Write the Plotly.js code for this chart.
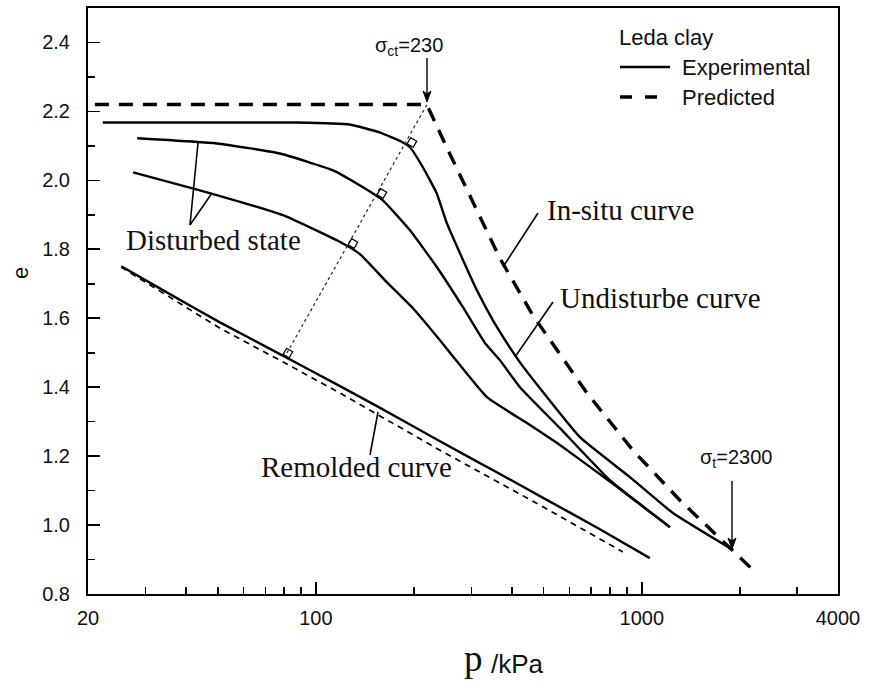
<!DOCTYPE html>
<html><head><meta charset="utf-8">
<script src="https://cdn.plot.ly/plotly-3.0.1.min.js"></script>
<style>html,body{margin:0;padding:0;background:#fff}</style>
</head><body><div id="chart" style="width:874px;height:682px"></div>
<script>
// ---- data ----
const insituPredP = [21, 219, 252, 312, 367, 463, 679, 939, 1309, 2193];
const insituPredE = [2.22, 2.22, 2.096, 1.916, 1.774, 1.609, 1.383, 1.217, 1.072, 0.870];

const undisturbedP = [22.2, 87.5, 127, 157, 185, 194.5, 213, 235, 252.5, 277, 312, 349.5, 386, 423, 487, 646, 920, 1246, 1904];
const undisturbedE = [2.168, 2.168, 2.162, 2.139, 2.110, 2.096, 2.038, 1.962, 1.875, 1.788, 1.681, 1.594, 1.528, 1.472, 1.397, 1.255, 1.139, 1.035, 0.928];

const disturbed1P = [28.3, 49.7, 77.6, 112.9, 139.5, 160.6, 194.5, 235.3, 282.7, 330.3, 367.2, 422.9, 561, 798.4, 1220];
const disturbed1E = [2.122, 2.107, 2.078, 2.029, 1.980, 1.942, 1.855, 1.748, 1.632, 1.528, 1.478, 1.400, 1.281, 1.130, 0.994];

const disturbed2P = [27.5, 44.1, 79.3, 121.1, 136.6, 163, 198.6, 240.4, 276.8, 334.9, 453.9, 561, 809.9, 1220];
const disturbed2E = [2.023, 1.971, 1.899, 1.817, 1.786, 1.710, 1.629, 1.536, 1.464, 1.371, 1.290, 1.232, 1.122, 0.994];

const remoldedExpP = [25.3, 34.9, 50.8, 77.6, 118.6, 154, 240.4, 367.2, 487.1, 744, 1059];
const remoldedExpE = [1.751, 1.675, 1.588, 1.496, 1.403, 1.345, 1.243, 1.148, 1.084, 0.988, 0.904];

const remoldedPredP = [25.3, 34.9, 50.8, 77.6, 118.6, 240.4, 487.1, 875];
const remoldedPredE = [1.748, 1.667, 1.571, 1.478, 1.383, 1.217, 1.058, 0.922];

const dsLineP = [81.5, 219.3];
const dsLineE = [1.499, 2.22];
const dsPointP = [82.1, 130, 159.5, 197.2];
const dsPointE = [1.499, 1.817, 1.962, 2.110];

const xTickVals = [20, 100, 1000, 4000];
const xTickText = ['20', '100', '1000', '4000'];
const xMinorVals = [30, 40, 50, 60, 70, 80, 90, 200, 300, 400, 500, 600, 700, 800, 900, 2000, 3000];

// ---- layout helpers (plot area in pixels) ----
const L = 88, R = 838, T = 8, B = 594;
const PX = px => (px - L) / (R - L);
const PY = py => 1 - (py - T) / (B - T);

const SANS = 'Liberation Sans, Arial, sans-serif';
const SERIF = 'Liberation Serif, Times New Roman, serif';

const solid = {color: '#000', width: 2.4, shape: 'spline', smoothing: 0.4};

const traces = [
  {x: insituPredP, y: insituPredE, mode: 'lines', name: 'Predicted', showlegend: false,
   line: {color: '#000', width: 3.4, dash: '14px,10px'}},
  {x: undisturbedP, y: undisturbedE, mode: 'lines', name: 'Experimental', showlegend: false, line: solid},
  {x: disturbed1P, y: disturbed1E, mode: 'lines', showlegend: false, line: solid},
  {x: disturbed2P, y: disturbed2E, mode: 'lines', showlegend: false, line: solid},
  {x: remoldedExpP, y: remoldedExpE, mode: 'lines', showlegend: false, line: solid},
  {x: remoldedPredP, y: remoldedPredE, mode: 'lines', showlegend: false,
   line: {color: '#000', width: 1.7, dash: '6px,5px'}},
  {x: dsLineP, y: dsLineE, mode: 'lines', showlegend: false,
   line: {color: '#333', width: 1.3, dash: '3px,3px'}},
  {x: dsPointP, y: dsPointE, mode: 'markers', showlegend: false,
   marker: {symbol: 'square-open', size: 7, angle: 30, color: '#000', line: {width: 1.2}}}
];

function label(text, px, py, size, family, anchor) {
  return {xref: 'paper', yref: 'paper', x: PX(px), y: PY(py), text: text, showarrow: false,
    xanchor: anchor || 'left', yanchor: 'middle', font: {family: family, size: size, color: '#111'}};
}
function seg(x0, y0, x1, y1, w, dash) {
  return {type: 'line', xref: 'paper', yref: 'paper', x0: PX(x0), y0: PY(y0), x1: PX(x1), y1: PY(y1),
    line: {color: '#000', width: w || 1.6, dash: dash || 'solid'}};
}
function headDown(px, py) {
  const p = 'M' + PX(px) + ',' + PY(py) + ' L' + PX(px - 4) + ',' + PY(py - 11) +
            ' L' + PX(px) + ',' + PY(py - 8) + ' L' + PX(px + 4) + ',' + PY(py - 11) + ' Z';
  return {type: 'path', xref: 'paper', yref: 'paper', path: p, fillcolor: '#000', line: {color: '#000', width: 1}};
}

const annotations = [
  label('σ<sub>ct</sub>=230', 409, 47, 20, SANS, 'center'),
  label('σ<sub>t</sub>=2300', 736, 458, 20, SANS, 'center'),
  label('In-situ curve', 545, 210, 29, SERIF),
  label('Undisturbe curve', 558, 298, 29, SERIF),
  label('Disturbed state', 124, 240, 29, SERIF),
  label('Remolded curve', 259, 467, 29, SERIF),
  label('Leda clay', 617, 38, 22, SANS),
  label('Experimental', 680, 67, 22, SANS),
  label('Predicted', 680, 97, 22, SANS),
  {xref: 'paper', yref: 'paper', x: PX(20), y: PY(273), text: 'e', showarrow: false, textangle: -90,
   xanchor: 'center', yanchor: 'middle', font: {family: SANS, size: 22, color: '#111'}},
  label('p', 473, 658, 37, SERIF, 'center'),
  label('/kPa', 489, 664, 26, SANS)
];

const shapes = [
  // legend keys
  seg(620, 67, 670, 67, 2.4),
  seg(620, 97, 660, 97, 3.4, '12px,13px'),
  // sigma arrows
  seg(427, 58, 427, 96, 1.4), headDown(427, 102),
  seg(732, 481, 732, 543, 1.4), headDown(732, 549),
  // label pointers
  seg(503, 267, 538, 213),
  seg(515, 357, 553, 302),
  seg(198, 143, 190, 225),
  seg(212, 193, 190, 225),
  seg(378, 412, 370, 455)
];

const layout = {
  width: 874, height: 682,
  margin: {l: L, r: 874 - R, t: T, b: 682 - B},
  paper_bgcolor: '#fff', plot_bgcolor: '#fff',
  showlegend: false,
  xaxis: {
    type: 'log', range: [Math.log10(20), Math.log10(4000)],
    tickmode: 'array', tickvals: xTickVals, ticktext: xTickText,
    ticks: 'inside', ticklen: 12, tickwidth: 1.6, tickcolor: '#000',
    showline: true, linecolor: '#000', linewidth: 2, mirror: true,
    showgrid: false, zeroline: false, ticklabelstandoff: 5,
    tickfont: {family: SANS, size: 20, color: '#111'},
    minor: {tickmode: 'array', tickvals: xMinorVals, ticks: 'inside', ticklen: 7, tickwidth: 1.6, tickcolor: '#000', showgrid: false}
  },
  yaxis: {
    range: [0.8, 2.5], tickmode: 'linear', tick0: 0.8, dtick: 0.2, tickformat: '.1f',
    ticks: 'inside', ticklen: 12, tickwidth: 1.6, tickcolor: '#000',
    showline: true, linecolor: '#000', linewidth: 2, mirror: true,
    showgrid: false, zeroline: false, ticklabelstandoff: 12,
    tickfont: {family: SANS, size: 20, color: '#111'},
    minor: {tick0: 0.8, dtick: 0.1, ticks: 'inside', ticklen: 7, tickwidth: 1.6, tickcolor: '#000', showgrid: false}
  },
  annotations: annotations,
  shapes: shapes
};

Plotly.newPlot('chart', traces, layout, {displayModeBar: false, staticPlot: true});
</script>
</body></html>
